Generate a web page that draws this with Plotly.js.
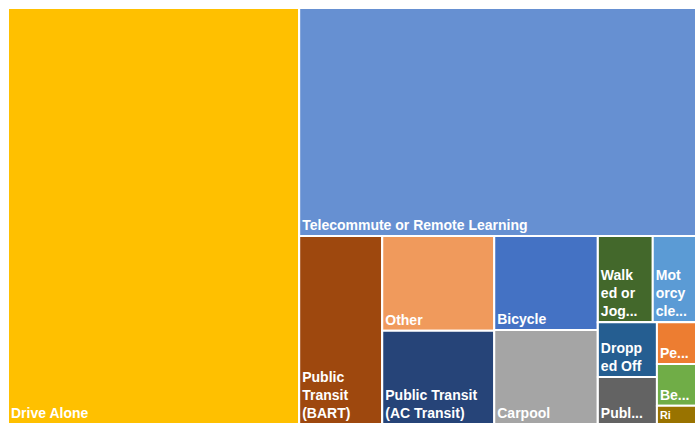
<!DOCTYPE html>
<html>
<head>
<meta charset="utf-8">
<script src="https://cdn.plot.ly/plotly-3.0.1.min.js"></script>
<style>
  html, body { margin: 0; padding: 0; background: #ffffff; }
  #chart { width: 696px; height: 431px; }
</style>
</head>
<body>
<div id="chart"></div>
<script>
// commute modes (leaf tiles), share of respondents in %
const modeIds = [
  "drive", "tele", "bart", "other", "ac", "bike", "carpool",
  "walk", "moto", "dropped", "publ", "pe", "be", "ri"
];

const modeLabels = [
  "Drive Alone",
  "Telecommute or Remote Learning",
  "Public Transit (BART)",
  "Other",
  "Public Transit (AC Transit)",
  "Bicycle",
  "Carpool",
  "Walked or Jogged",
  "Motorcycle",
  "Dropped Off",
  "Publ...",
  "Pe...",
  "Be...",
  "Ri"
];

// text as it shows on the tiles
const tileText = [
  "Drive Alone",
  "Telecommute or Remote Learning",
  "Public<br>Transit<br>(BART)",
  "Other",
  "Public Transit<br>(AC Transit)",
  "Bicycle",
  "Carpool",
  "Walk<br>ed or<br>Jog...",
  "Mot<br>orcy<br>cle...",
  "Dropp<br>ed Off",
  "Publ...",
  "Pe...",
  "Be...",
  "Ri"
];

const modeShares = [
  42.3, 31.6, 5.45, 3.7, 3.65, 3.4, 3.4,
  1.65, 1.3, 1.13, 0.97, 0.57, 0.57, 0.25
];

const modeParents = [
  "", "right", "bottom", "colA", "colA", "colB", "colB",
  "rowTop", "rowTop", "colC2", "colC2", "colD2", "colD2", "colD2"
];

const modeColors = [
  "#FFC000", "#6690D2", "#9E480E", "#F09A5C", "#264478", "#4472C4", "#A5A5A5",
  "#43682B", "#5B9BD5", "#255E91", "#636363", "#ED7D31", "#70AD47", "#997300"
];

// invisible groups that give the tile arrangement of the reference
const groupIds = [
  "right", "bottom", "colA", "colB", "colCD",
  "rowTop", "rowBottom", "colC2", "colD2"
];

const groupParents = [
  "", "right", "bottom", "bottom", "bottom",
  "colCD", "colCD", "rowBottom", "rowBottom"
];

// drawing order: [kind, index]
const nodeOrder = [
  ["m", 0], ["g", 0], ["m", 1], ["g", 1], ["m", 2],
  ["g", 2], ["m", 3], ["m", 4],
  ["g", 3], ["m", 5], ["m", 6],
  ["g", 4], ["g", 5], ["m", 7], ["m", 8],
  ["g", 6], ["g", 7], ["m", 9], ["m", 10],
  ["g", 8], ["m", 11], ["m", 12], ["m", 13]
];

function buildTrace() {

  const ids = [];
  const labels = [];
  const parents = [];
  const values = [];
  const text = [];
  const colors = [];

  nodeOrder.forEach(([kind, i]) => {
    if (kind === "m") {
      ids.push(modeIds[i]);
      labels.push(modeLabels[i]);
      parents.push(modeParents[i]);
      values.push(modeShares[i]);
      text.push(tileText[i]);
      colors.push(modeColors[i]);
    } else {
      ids.push(groupIds[i]);
      labels.push(groupIds[i]);
      parents.push(groupParents[i]);
      values.push(0);
      text.push("");
      colors.push("#ffffff");
    }
  });

  return {
    type: "treemap",
    ids,
    labels,
    parents,
    values,
    text,
    branchvalues: "remainder",
    sort: false,
    textinfo: "text",
    textposition: "bottom left",
    textfont: {
      family: "Liberation Sans, Arial, sans-serif",
      size: 14,
      color: "#ffffff",
      weight: "bold"
    },
    tiling: {
      packing: "slice-dice",
      pad: 0
    },
    pathbar: { visible: false },
    marker: {
      colors,
      depthfade: false,
      pad: { t: 0, l: 0, r: 0, b: 0 },
      line: { color: "#ffffff", width: 2 }
    },
    hoverinfo: "label+value"
  };
}

const layout = {
  width: 696,
  height: 431,
  margin: { l: 8, r: 0, t: 8, b: 7 },
  paper_bgcolor: "#ffffff",
  showlegend: false
};

Plotly.newPlot("chart", [buildTrace()], layout, { displayModeBar: false });
</script>
</body>
</html>
